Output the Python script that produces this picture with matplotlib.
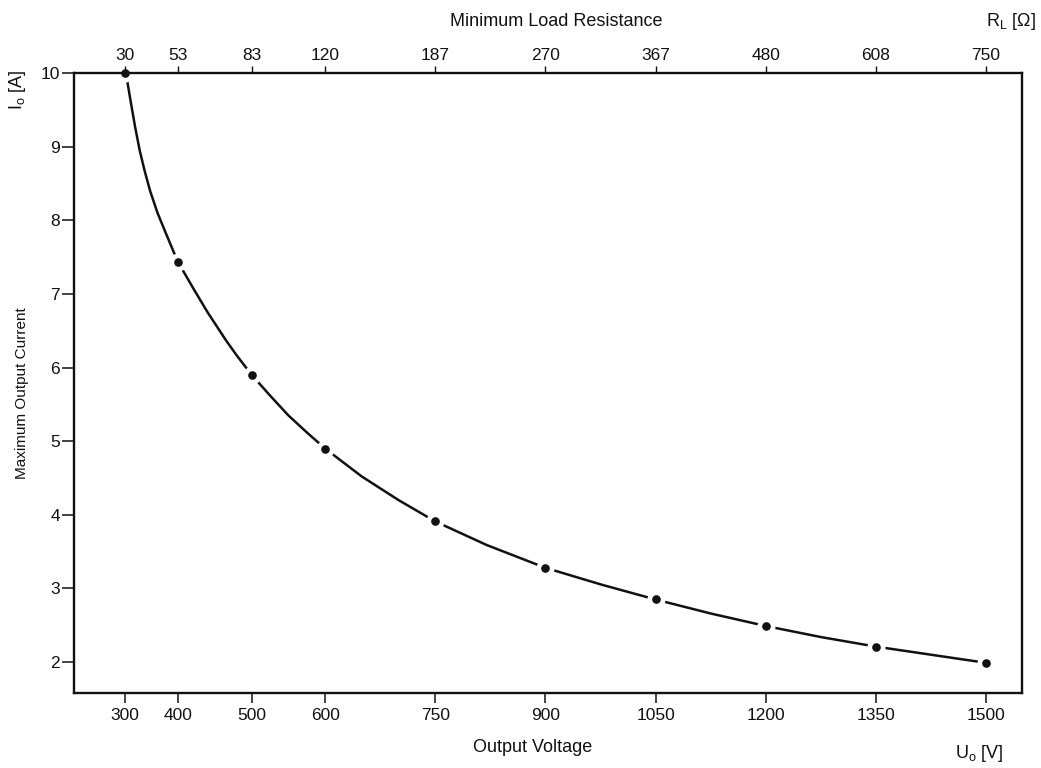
import numpy as np
import matplotlib
matplotlib.use('Agg')
import matplotlib.pyplot as plt

plt.rcParams['font.family'] = ['Liberation Sans', 'DejaVu Sans']
plt.rcParams['mathtext.fontset'] = 'custom'
plt.rcParams['mathtext.rm'] = 'Liberation Sans'

# ----------------- data -----------------
# marked points: output voltage [V] / maximum output current [A]
voltage = [300, 400, 500, 600, 750, 900, 1050, 1200, 1350, 1500]
current = [10.0, 7.43, 5.90, 4.90, 3.91, 3.28, 2.85, 2.49, 2.21, 1.99]
# labels of the top axis (minimum load resistance at each voltage tick)
resistance = ['30', '53', '83', '120', '187', '270', '367', '480', '608', '750']
# points along the drawn curve
curve_v = [300, 304, 311.5, 319, 327.7, 336.8, 347, 361, 377.5, 392, 400,
           408, 422, 440, 465, 480, 500, 525, 550, 575, 600, 650, 700, 750,
           820, 900, 977, 1050, 1125, 1200, 1275, 1350, 1425, 1500]
curve_i = [10.0, 9.89, 9.57, 9.26, 8.94, 8.67, 8.40, 8.10, 7.81, 7.56, 7.43,
           7.29, 7.05, 6.75, 6.37, 6.16, 5.90, 5.62, 5.35, 5.12, 4.90, 4.52, 4.20, 3.91,
           3.59, 3.28, 3.05, 2.85, 2.66, 2.49, 2.34, 2.21, 2.10, 1.99]
current_ticks = [2, 3, 4, 5, 6, 7, 8, 9, 10]


# the printed voltage axis is squeezed below 400 V
def fwd(v):
    v = np.asarray(v, dtype=float)
    return np.where(v < 400, 400 - (400 - v) * 0.723, v)


def inv(p):
    p = np.asarray(p, dtype=float)
    return np.where(p < 400, 400 - (400 - p) / 0.723, p)


W, H = 1041, 768
fig = plt.figure(figsize=(W / 100, H / 100), dpi=100)
ax = fig.add_axes([74 / W, 1 - 693 / H, (1022 - 74) / W, (693 - 73) / H])

ax.set_xscale('function', functions=(fwd, inv))
ax.set_xlim(203.7, 1549)
ax.set_ylim(1.58, 10)

ink = '#111111'
ax.plot(curve_v, curve_i, color=ink, lw=1.8, solid_capstyle='butt',
        solid_joinstyle='round', zorder=2)
ax.plot(voltage, current, 'o', color='white', ms=12, mec='white', zorder=2.1)
ax.plot(voltage, current, 'o', color=ink, ms=5.2, mec=ink, zorder=3, clip_on=False)

ax.set_xticks(voltage)
ax.set_xticklabels([str(v) for v in voltage])
ax.set_yticks(current_ticks)
ax.set_yticklabels([str(c) for c in current_ticks])
ax.tick_params(axis='x', direction='out', length=7, width=1.1, pad=4,
               labelsize=12.5, colors=ink)
ax.tick_params(axis='y', direction='out', length=9, width=1.1, pad=1,
               labelsize=12.5, colors=ink)
ax.minorticks_off()
for s in ax.spines.values():
    s.set_linewidth(1.7)
    s.set_color(ink)

top = ax.twiny()
top.set_xscale('function', functions=(fwd, inv))
top.set_xlim(ax.get_xlim())
top.set_xticks(voltage)
top.set_xticklabels(resistance)
top.minorticks_off()
top.tick_params(axis='x', direction='out', length=5, width=1.0, pad=2,
                labelsize=12.5, colors=ink)
for s in top.spines.values():
    s.set_visible(False)

# axis titles and units
fig.text(556 / W, 1 - 22 / H, 'Minimum Load Resistance', ha='center', va='center',
         fontsize=13, color=ink)
fig.text(986 / W, 1 - 22 / H, r'R$_\mathregular{L}$ [Ω]', ha='left', va='center',
         fontsize=13, color=ink)
fig.text(533 / W, 1 - 747 / H, 'Output Voltage', ha='center', va='center',
         fontsize=13, color=ink)
fig.text(955 / W, 1 - 753 / H, r'U$_\mathregular{o}$ [V]', ha='left', va='center',
         fontsize=13, color=ink)
fig.text(18 / W, 1 - 90 / H, r'I$_\mathregular{o}$ [A]', ha='center', va='center',
         rotation=90, fontsize=13, color=ink)
fig.text(22 / W, 1 - 393 / H, 'Maximum Output Current', ha='center', va='center',
         rotation=90, fontsize=11, color=ink)

fig.savefig('out.png', dpi=100)
